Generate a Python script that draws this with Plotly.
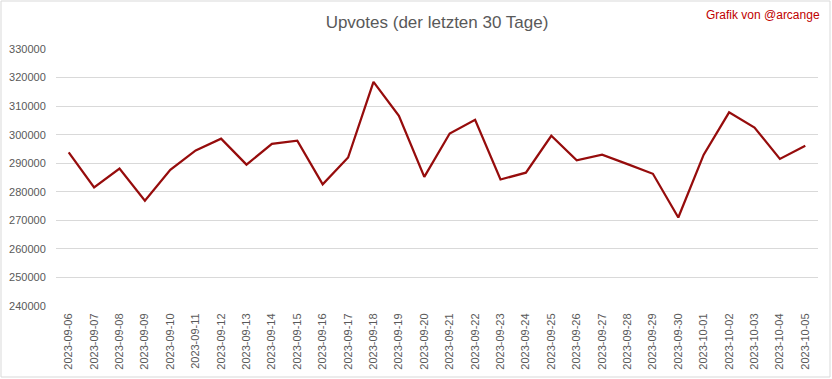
import plotly.graph_objects as go

dates = ["2023-09-06", "2023-09-07", "2023-09-08", "2023-09-09", "2023-09-10",
         "2023-09-11", "2023-09-12", "2023-09-13", "2023-09-14", "2023-09-15",
         "2023-09-16", "2023-09-17", "2023-09-18", "2023-09-19", "2023-09-20",
         "2023-09-21", "2023-09-22", "2023-09-23", "2023-09-24", "2023-09-25",
         "2023-09-26", "2023-09-27", "2023-09-28", "2023-09-29", "2023-09-30",
         "2023-10-01", "2023-10-02", "2023-10-03", "2023-10-04", "2023-10-05"]
upvotes = [293800, 281500, 288100, 276900, 287700,
           294500, 298600, 289500, 296800, 297900,
           282600, 292000, 318500, 306600, 285200,
           300400, 305200, 284300, 286700, 299600,
           291000, 293000, 289700, 286300, 271000,
           293000, 307800, 302500, 291500, 296100]
y_ticks = list(range(240000, 330001, 10000))

W, H = 832, 379
ML, MR, MT, MB = 56, 14, 49, 73
pw = W - ML - MR
ph = H - MT - MB

fig = go.Figure()
fig.add_trace(go.Scatter(
    x=dates, y=upvotes, mode="lines",
    line=dict(color="#960c0c", width=2.25),
    hoverinfo="x+y",
))

font_family = "Liberation Sans Narrow, Arial Narrow, Liberation Sans, Arial, sans-serif"

fig.update_layout(
    width=W, height=H,
    margin=dict(l=ML, r=MR, t=MT, b=MB, autoexpand=False),
    paper_bgcolor="white", plot_bgcolor="white",
    showlegend=False,
    font=dict(family=font_family, color="#595959"),
    title=dict(text="Upvotes (der letzten 30 Tage)", x=0.5, xanchor="center",
               xref="paper", y=1 - 22 / H, yanchor="middle",
               font=dict(size=17, color="#595959", family=font_family)),
    xaxis=dict(type="category", tickangle=-90, showgrid=False,
               range=[-0.5, len(dates) - 0.5], automargin=False,
               tickfont=dict(size=11, color="#595959"),
               showline=False, ticks="outside", ticklen=2,
               tickcolor="rgba(0,0,0,0)", zeroline=False),
    yaxis=dict(range=[240000, 330000], tickvals=y_ticks,
               ticktext=[str(v) for v in y_ticks], automargin=False,
               showgrid=True, gridcolor="#d9d9d9", gridwidth=1,
               zeroline=False, showline=False,
               tickfont=dict(size=11, color="#595959"),
               ticks="outside", ticklen=7, tickcolor="rgba(0,0,0,0)"),
    annotations=[dict(text="Grafik von @arcange", xref="paper", yref="paper",
                      x=(822 - ML) / pw, y=(H - MB - 15) / ph,
                      xanchor="right", yanchor="middle", showarrow=False,
                      font=dict(size=12, color="#c00000", family=font_family))],
    shapes=[dict(type="rect", xref="paper", yref="paper",
                 x0=(1 - ML) / pw, x1=(830 - ML) / pw,
                 y0=(H - MB - 377) / ph, y1=(H - MB - 1) / ph,
                 line=dict(color="#d9d9d9", width=1), layer="below")],
)

fig.write_html("out.html", config={"displayModeBar": False},
               post_script="document.body.style.margin='0px';document.body.style.overflow='hidden';")
